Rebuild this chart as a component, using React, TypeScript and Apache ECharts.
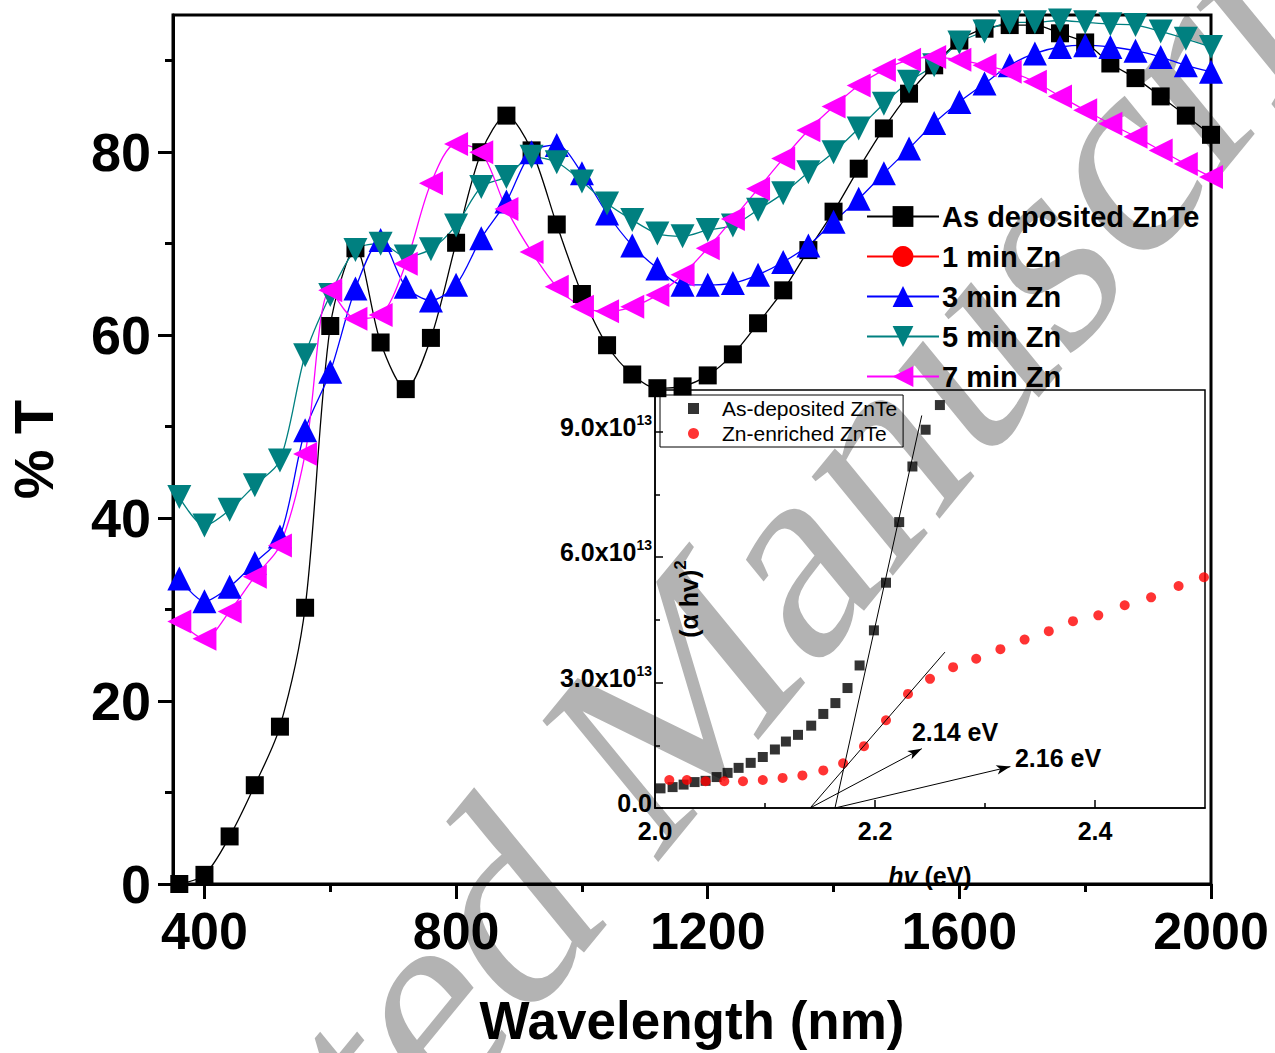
import React, { useEffect, useRef } from "react";
import * as echarts from "echarts";

// ---- Transmittance spectra (% T vs wavelength, nm) ----
const wavelengths = [
  360, 400, 440, 480, 520, 560, 600, 640, 680, 720, 760, 800, 840, 880, 920, 960, 1000, 1040, 1080, 1120, 1160,
  1200, 1240, 1280, 1320, 1360, 1400, 1440, 1480, 1520, 1560, 1600, 1640, 1680, 1720, 1760, 1800, 1840, 1880, 1920,
  1960, 2000,
];
const asDeposited = [
  0, 1, 5.2, 10.8, 17.2, 30.2, 61, 69.5, 59.2, 54.1, 59.7, 70.1, 80, 84, 80.2, 72.1, 64.5, 58.9, 55.7, 54.2, 54.4,
  55.6, 57.9, 61.3, 64.9, 69.3, 73.5, 78.2, 82.6, 86.4, 89.5, 92.2, 93.5, 93.9, 93.9, 93, 92, 89.7, 88.1, 86.1, 84,
  81.9,
];
const min1Zn: number[] = [];
const min3Zn = [
  33.4, 30.9, 32.5, 35.1, 38, 49.6, 56, 65.1, 70.4, 65.3, 63.8, 65.5, 70.6, 74.6, 80, 80.8, 77.7, 73.3, 69.8, 67.3,
  65.5, 65.5, 65.7, 66.6, 68, 69.8, 72.4, 74.9, 77.7, 80.4, 83.2, 85.5, 87.5, 89.5, 90.8, 91.5, 91.7, 91.5, 91.1, 90.4,
  89.5, 88.8,
];
const min5Zn = [
  42.3, 39.2, 40.9, 43.6, 46.3, 57.8, 64.4, 69.3, 70, 68.6, 69.4, 72, 76.2, 77.3, 79.5, 78.9, 76.8, 74.4, 72.6, 71.1,
  70.8, 71.5, 72, 73.7, 75.5, 77.8, 80, 82.6, 85.3, 87.7, 89.5, 92, 93.2, 94.2, 94.2, 94.4, 94.2, 94, 93.9, 93.2, 92.4,
  91.5,
];
const min7Zn = [
  28.7, 26.8, 29.8, 33.6, 37, 47, 64.9, 61.8, 62.2, 67.8, 76.6, 80.9, 80, 73.8, 69.1, 65.3, 63.1, 62.6, 63.1, 64.4,
  66.6, 69.5, 72.7, 76, 79.3, 82.4, 85, 87.3, 89, 90.1, 90.4, 90.1, 89.5, 88.8, 87.7, 86.1, 84.6, 83.1, 81.7, 80.2,
  78.7, 77.3,
];

const wavelengthTicks = [400, 800, 1200, 1600, 2000];
const wavelengthMinorTicks = [600, 1000, 1400, 1800];
const transmittanceTicks = [0, 20, 40, 60, 80];
const transmittanceMinorTicks = [10, 30, 50, 70, 90];

// ---- Tauc plot inset: (alpha h nu)^2 vs photon energy (eV) ----
const energyAsDeposited = [
  2.005, 2.016, 2.026, 2.036, 2.046, 2.056, 2.066, 2.076, 2.087, 2.098, 2.109, 2.119, 2.13, 2.142, 2.153, 2.164,
  2.175, 2.186, 2.199, 2.21, 2.222, 2.234, 2.246, 2.259,
];
const taucAsDeposited = [
  0.47e13, 0.5e13, 0.56e13, 0.62e13, 0.65e13, 0.74e13, 0.84e13, 0.96e13, 1.08e13, 1.22e13, 1.4e13, 1.59e13, 1.75e13,
  1.97e13, 2.25e13, 2.51e13, 2.87e13, 3.41e13, 4.25e13, 5.39e13, 6.84e13, 8.17e13, 9.05e13, 9.64e13,
];
const energyZnEnriched = [
  2.013, 2.029, 2.046, 2.063, 2.08, 2.098, 2.116, 2.134, 2.153, 2.171, 2.19, 2.21, 2.23, 2.25, 2.271, 2.292, 2.314,
  2.336, 2.358, 2.38, 2.403, 2.427, 2.451, 2.476, 2.499,
];
const taucZnEnriched = [
  0.67e13, 0.67e13, 0.64e13, 0.64e13, 0.64e13, 0.67e13, 0.72e13, 0.78e13, 0.9e13, 1.07e13, 1.48e13, 2.1e13, 2.73e13,
  3.09e13, 3.37e13, 3.57e13, 3.8e13, 4.03e13, 4.23e13, 4.47e13, 4.61e13, 4.85e13, 5.04e13, 5.31e13, 5.52e13,
];

const energyTicks = [2.0, 2.2, 2.4];
const energyMinorTicks = [2.1, 2.3];
const taucTicks = [0, 3e13, 6e13, 9e13];
const taucMinorTicks = [1.5e13, 4.5e13, 7.5e13];

// Linear extrapolations to the energy axis and the band-gap callouts
const fitAsDeposited = [
  [2.1636, 0],
  [2.2425, 9.39e13],
];
const fitZnEnriched = [
  [2.141, 0],
  [2.2636, 3.73e13],
];
const gapArrowZn = [
  [2.141, 0],
  [2.2425, 1.42e13],
];
const gapArrowAsDep = [
  [2.1636, 0],
  [2.3231, 0.99e13],
];
const gapLabels = [
  { text: "2.14 eV", at: [2.2727, 1.82e13] },
  { text: "2.16 eV", at: [2.3664, 1.2e13] },
];

const SANS = "Liberation Sans, Arial, sans-serif";
const BLACK = "#000000";

const pairs = (xs: number[], ys: number[]) => ys.map((y, i) => [xs[i], y]);

export default function App() {
  const ref = useRef<HTMLDivElement>(null);

  useEffect(() => {
    document.body.style.margin = "0";
    if (!ref.current) return;
    const chart = echarts.init(ref.current, null, { renderer: "svg" });

    const mainLine = (name: string, color: string, values: number[], symbol: string, size: number, rotate = 0) => ({
      name,
      type: "line",
      xAxisIndex: 0,
      yAxisIndex: 0,
      data: pairs(wavelengths, values),
      smooth: 0.3,
      symbol,
      symbolSize: size,
      symbolRotate: rotate,
      lineStyle: { color, width: 1.3 },
      itemStyle: { color },
      z: 3,
    });

    const bold = { fontFamily: SANS, fontWeight: "bold" as const, color: BLACK };

    const minorAxis = (gridIndex: number, min: number, max: number, position: string, values: number[], length: number, inside: boolean, width: number) => ({
      gridIndex,
      type: "value",
      position,
      min,
      max,
      axisLine: { show: false, onZero: false },
      axisTick: { show: true, inside, customValues: values, length, lineStyle: { color: BLACK, width } },
      axisLabel: { show: false },
      splitLine: { show: false },
    });

    const option: any = {
      animation: false,
      backgroundColor: "#ffffff",
      grid: [
        { left: 173, top: 15, width: 1038, height: 869, outerBoundsMode: "none", containLabel: false, show: true, borderColor: BLACK, borderWidth: 3, backgroundColor: "transparent" },
        { left: 655, top: 390, width: 550, height: 418, outerBoundsMode: "none", containLabel: false, show: true, borderColor: BLACK, borderWidth: 1.5, backgroundColor: "transparent" },
      ],
      xAxis: [
        {
          gridIndex: 0,
          type: "value",
          position: "bottom",
          min: 350,
          max: 2000,
          axisLine: { show: true, onZero: false, lineStyle: { color: BLACK, width: 3 } },
          axisTick: { show: true, customValues: wavelengthTicks, length: 15, lineStyle: { color: BLACK, width: 3 } },
          axisLabel: { customValues: wavelengthTicks, formatter: (v: number) => String(v), fontSize: 52, margin: 21, ...bold },
          splitLine: { show: false },
          name: "Wavelength (nm)",
          nameLocation: "middle",
          nameGap: 110,
          nameTextStyle: { fontSize: 53, ...bold },
        },
        minorAxis(0, 350, 2000, "bottom", wavelengthMinorTicks, 8, false, 3),
        {
          gridIndex: 1,
          type: "value",
          position: "bottom",
          min: 2.0,
          max: 2.5,
          axisLine: { show: true, onZero: false, lineStyle: { color: BLACK, width: 1.5 } },
          axisTick: { show: true, inside: true, customValues: energyTicks, length: 8, lineStyle: { color: BLACK, width: 1.5 } },
          axisLabel: {
            customValues: energyTicks,
            formatter: (v: number) => v.toFixed(1),
            fontSize: 25,
            margin: 10,
            ...bold,
          },
          splitLine: { show: false },
          name: "{i|hv}{n| (eV)}",
          nameLocation: "middle",
          nameGap: 55,
          nameTextStyle: {
            rich: {
              i: { fontSize: 25, fontStyle: "italic", ...bold },
              n: { fontSize: 25, ...bold },
            },
          },
        },
        minorAxis(1, 2.0, 2.5, "bottom", energyMinorTicks, 5, true, 1.5),
      ],
      yAxis: [
        {
          gridIndex: 0,
          type: "value",
          position: "left",
          min: 0,
          max: 95,
          axisLine: { show: true, onZero: false, lineStyle: { color: BLACK, width: 3 } },
          axisTick: { show: true, customValues: transmittanceTicks, length: 15, lineStyle: { color: BLACK, width: 3 } },
          axisLabel: { customValues: transmittanceTicks, fontSize: 54, margin: 22, ...bold },
          splitLine: { show: false },
          name: "% T",
          nameLocation: "middle",
          nameRotate: 90,
          nameGap: 112,
          nameTextStyle: { fontSize: 56, ...bold },
        },
        minorAxis(0, 0, 95, "left", transmittanceMinorTicks, 8, false, 3),
        {
          gridIndex: 1,
          type: "value",
          position: "left",
          min: 0,
          max: 1e14,
          axisLine: { show: true, onZero: false, lineStyle: { color: BLACK, width: 1.5 } },
          axisTick: { show: true, inside: true, customValues: taucTicks, length: 8, lineStyle: { color: BLACK, width: 1.5 } },
          axisLabel: {
            customValues: taucTicks,
            margin: 3,
            padding: [0, 0, 10, 0],
            formatter: (v: number) => (v === 0 ? "{m|0.0}" : `{m|${(v / 1e13).toFixed(1)}x10}{s|13}`),
            rich: {
              m: { fontSize: 25, ...bold },
              s: { fontSize: 14, padding: [0, 0, 14, 0], ...bold },
            },
          },
          splitLine: { show: false },
          name: "{a|(α hv)}{s|2}",
          nameLocation: "middle",
          nameRotate: 90,
          nameGap: -50,
          nameTextStyle: {
            rich: {
              a: { fontSize: 25, ...bold },
              s: { fontSize: 17, padding: [0, 0, 16, 0], ...bold },
            },
          },
        },
        minorAxis(1, 0, 1e14, "left", taucMinorTicks, 5, true, 1.5),
      ],
      legend: [
        {
          data: ["As deposited ZnTe", "1 min Zn", "3 min Zn", "5 min Zn", "7 min Zn"],
          orient: "vertical",
          left: 866,
          top: 202,
          padding: 0,
          itemWidth: 72,
          itemHeight: 26,
          itemGap: 11,
          textStyle: { fontSize: 29, ...bold, padding: [0, 0, 0, -2] },
        },
        {
          data: ["As-deposited ZnTe", "Zn-enriched ZnTe"],
          orient: "vertical",
          left: 660,
          top: 395,
          padding: [3, 6, 3, 28],
          borderColor: BLACK,
          borderWidth: 1,
          itemWidth: 11,
          itemHeight: 11,
          itemGap: 4,
          textStyle: { fontSize: 21, fontFamily: SANS, color: BLACK, padding: [0, 0, 0, 18] },
        },
      ],
      series: [
        mainLine("As deposited ZnTe", "#000000", asDeposited, "rect", 18),
        mainLine("1 min Zn", "#ff0000", min1Zn, "circle", 24),
        mainLine("3 min Zn", "#0000ff", min3Zn, "triangle", 24),
        mainLine("5 min Zn", "#008080", min5Zn, "triangle", 24, 180),
        mainLine("7 min Zn", "#ff00ff", min7Zn, "triangle", 24, 90),
        {
          name: "As-deposited ZnTe",
          type: "scatter",
          xAxisIndex: 2,
          yAxisIndex: 2,
          data: pairs(energyAsDeposited, taucAsDeposited),
          symbol: "rect",
          symbolSize: 10,
          itemStyle: { color: "#000000" },
          z: 4,
          markLine: {
            silent: true,
            symbol: ["none", "none"],
            label: { show: false },
            lineStyle: { color: BLACK, width: 1, type: "solid" },
            data: [
              [{ coord: fitAsDeposited[0] }, { coord: fitAsDeposited[1] }],
              [{ coord: fitZnEnriched[0] }, { coord: fitZnEnriched[1] }],
              [
                { coord: gapArrowZn[0], symbol: "none" },
                { coord: gapArrowZn[1], symbol: "arrow", symbolSize: [7, 14] },
              ],
              [
                { coord: gapArrowAsDep[0], symbol: "none" },
                { coord: gapArrowAsDep[1], symbol: "arrow", symbolSize: [7, 14] },
              ],
            ],
          },
        },
        {
          name: "Zn-enriched ZnTe",
          type: "scatter",
          xAxisIndex: 2,
          yAxisIndex: 2,
          data: pairs(energyZnEnriched, taucZnEnriched),
          symbol: "circle",
          symbolSize: 10,
          itemStyle: { color: "#ff0000" },
          z: 4,
          markPoint: {
            silent: true,
            symbol: "circle",
            symbolSize: 0,
            label: { show: true, position: "inside", formatter: "{b}", fontSize: 25, ...bold },
            data: gapLabels.map((g) => ({ name: g.text, coord: g.at })),
          },
        },
      ],
      graphic: [
        {
          type: "group",
          silent: true,
          z: -10,
          x: 640,
          y: 738,
          scaleY: 1.22,
          children: [
            {
              type: "text",
              z: -10,
              rotation: Math.PI / 4,
              style: {
                text: "Accepted Manuscript",
                fontSize: 250,
                fontFamily: "Liberation Serif, Times New Roman, serif",
                fill: "#b3b3b3",
                align: "center",
                verticalAlign: "middle",
              },
            },
          ],
        },
      ],
    };

    chart.setOption(option);
    return () => chart.dispose();
  }, []);

  return <div ref={ref} style={{ width: 1275, height: 1053 }} />;
}
